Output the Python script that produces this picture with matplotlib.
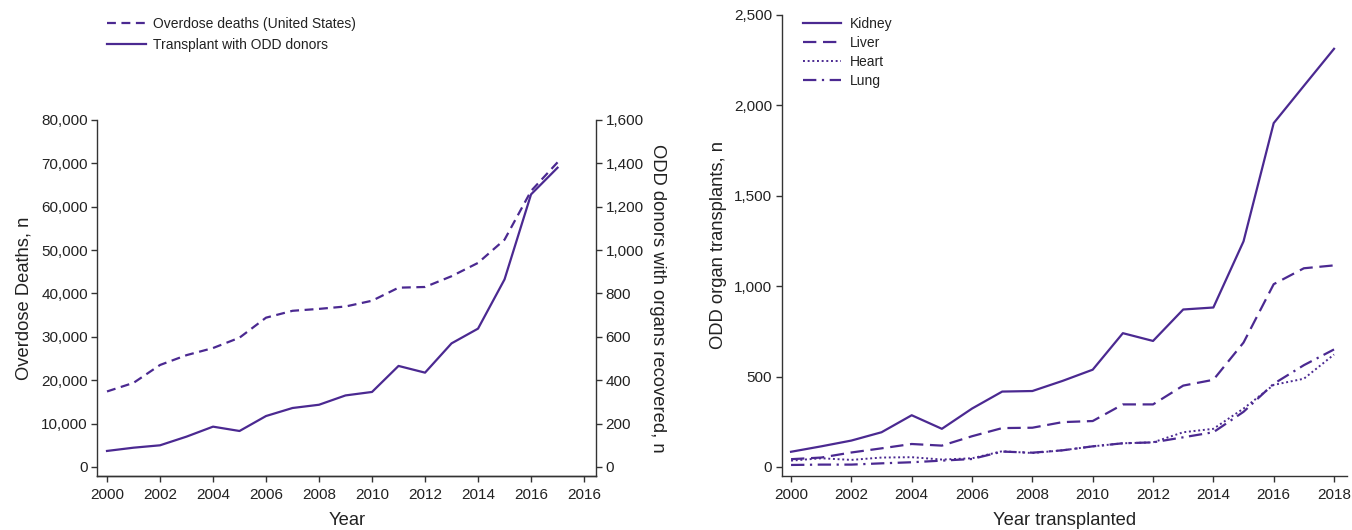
import numpy as np
import matplotlib
matplotlib.use('Agg')
import matplotlib.pyplot as plt
from matplotlib.ticker import FuncFormatter

plt.rcParams['font.family'] = ['Liberation Sans', 'DejaVu Sans']
plt.rcParams['text.color'] = '#222222'
plt.rcParams['axes.labelcolor'] = '#222222'
plt.rcParams['xtick.color'] = '#333333'
plt.rcParams['ytick.color'] = '#333333'
plt.rcParams['xtick.labelcolor'] = '#222222'
plt.rcParams['ytick.labelcolor'] = '#222222'

purple = '#4b2991'

# left panel data
years_left = list(range(2000, 2018))
overdose_deaths = [17415, 19394, 23518, 25785, 27424, 29813, 34425, 36010, 36450,
                   37004, 38329, 41340, 41502, 43982, 47055, 52404, 63632, 70237]
odd_donors = [74, 89, 100, 140, 186, 166, 235, 272, 287, 330, 346, 466, 435,
              570, 638, 865, 1257, 1380]
left_xticks = [2000, 2002, 2004, 2006, 2008, 2010, 2012, 2014, 2016, 2018]
left_xticklabels = ['2000', '2002', '2004', '2006', '2008', '2010', '2012',
                    '2014', '2016', '2016']

# right panel data
years_right = list(range(2000, 2019))
kidney = [84, 114, 146, 192, 286, 211, 323, 417, 420, 476, 538, 740, 697, 871,
          882, 1248, 1902, 2108, 2313]
liver = [43, 52, 80, 103, 127, 118, 170, 215, 217, 248, 254, 346, 346, 450,
         482, 688, 1011, 1099, 1115]
heart = [35, 48, 39, 52, 54, 41, 48, 87, 77, 92, 114, 131, 136, 192, 211, 323,
         454, 488, 622]
lung = [11, 13, 13, 20, 26, 35, 44, 85, 79, 92, 114, 131, 136, 164, 192, 305,
        460, 563, 650]

comma = FuncFormatter(lambda v, p: f'{int(v):,}')

fig = plt.figure(figsize=(13.52, 5.30), dpi=100)

def style_axis(ax, tick_fs=11):
    ax.spines['top'].set_visible(False)
    for s in ax.spines.values():
        s.set_color('#333333')
        s.set_linewidth(1.0)
    ax.tick_params(direction='out', length=4, width=1.0, labelsize=tick_fs, pad=3)
    ax.tick_params(axis='x', pad=5)

# ---- left panel
ax1 = fig.add_axes([0.0721, 0.1019, 0.3687, 0.6717])
ax2 = ax1.twinx()
l1, = ax1.plot(years_left, overdose_deaths, color=purple, lw=1.6,
               dashes=(4, 2.5), label='Overdose deaths (United States)')
l2, = ax2.plot(years_left, odd_donors, color=purple, lw=1.6,
               label='Transplant with ODD donors')
ax1.set_xlim(1999.64, 2018.45)
ax1.set_ylim(-2075, 80000)
ax2.set_ylim(-41.5, 1600)
ax1.set_yticks(np.arange(0, 80001, 10000))
ax2.set_yticks(np.arange(0, 1601, 200))
ax1.yaxis.set_major_formatter(comma)
ax2.yaxis.set_major_formatter(comma)
ax1.set_xticks(left_xticks)
ax1.set_xticklabels(left_xticklabels)
style_axis(ax1)
style_axis(ax2)
ax1.spines['right'].set_visible(False)
ax2.spines['left'].set_visible(False)
ax1.set_xlabel('Year', fontsize=13.2, labelpad=7)
ax1.set_ylabel('Overdose Deaths, n', fontsize=13.2, labelpad=6)
ax2.set_ylabel('ODD donors with organs recovered, n', fontsize=13.2,
               rotation=270, labelpad=16)

fig.legend(handles=[l1, l2], loc='upper left', bbox_to_anchor=(0.0748, 0.978),
           frameon=False, fontsize=10, handlelength=2.8, handletextpad=0.5,
           labelspacing=0.5, borderaxespad=0)

# ---- right panel
ax3 = fig.add_axes([0.5784, 0.1019, 0.4179, 0.8698])
ax3.plot(years_right, kidney, color=purple, lw=1.6, label='Kidney')
ax3.plot(years_right, liver, color=purple, lw=1.6, dashes=(6, 3), label='Liver')
ax3.plot(years_right, heart, color=purple, lw=1.4, dashes=(1, 1.4), label='Heart')
ax3.plot(years_right, lung, color=purple, lw=1.6, dashes=(6, 2.5, 1, 2.5), label='Lung')
ax3.set_xlim(1999.70, 2018.43)
ax3.set_ylim(-50, 2500)
ax3.set_yticks(np.arange(0, 2501, 500))
ax3.yaxis.set_major_formatter(comma)
ax3.set_xticks(np.arange(2000, 2019, 2))
style_axis(ax3)
ax3.spines['right'].set_visible(False)
ax3.set_xlabel('Year transplanted', fontsize=13.2, labelpad=7)
ax3.set_ylabel('ODD organ transplants, n', fontsize=13.2, labelpad=5)
ax3.legend(loc='upper left', bbox_to_anchor=(0.5895, 0.978),
           bbox_transform=fig.transFigure, frameon=False, fontsize=10,
           handlelength=2.8, handletextpad=0.6, labelspacing=0.36,
           borderaxespad=0)

fig.savefig('out.png', dpi=100)
